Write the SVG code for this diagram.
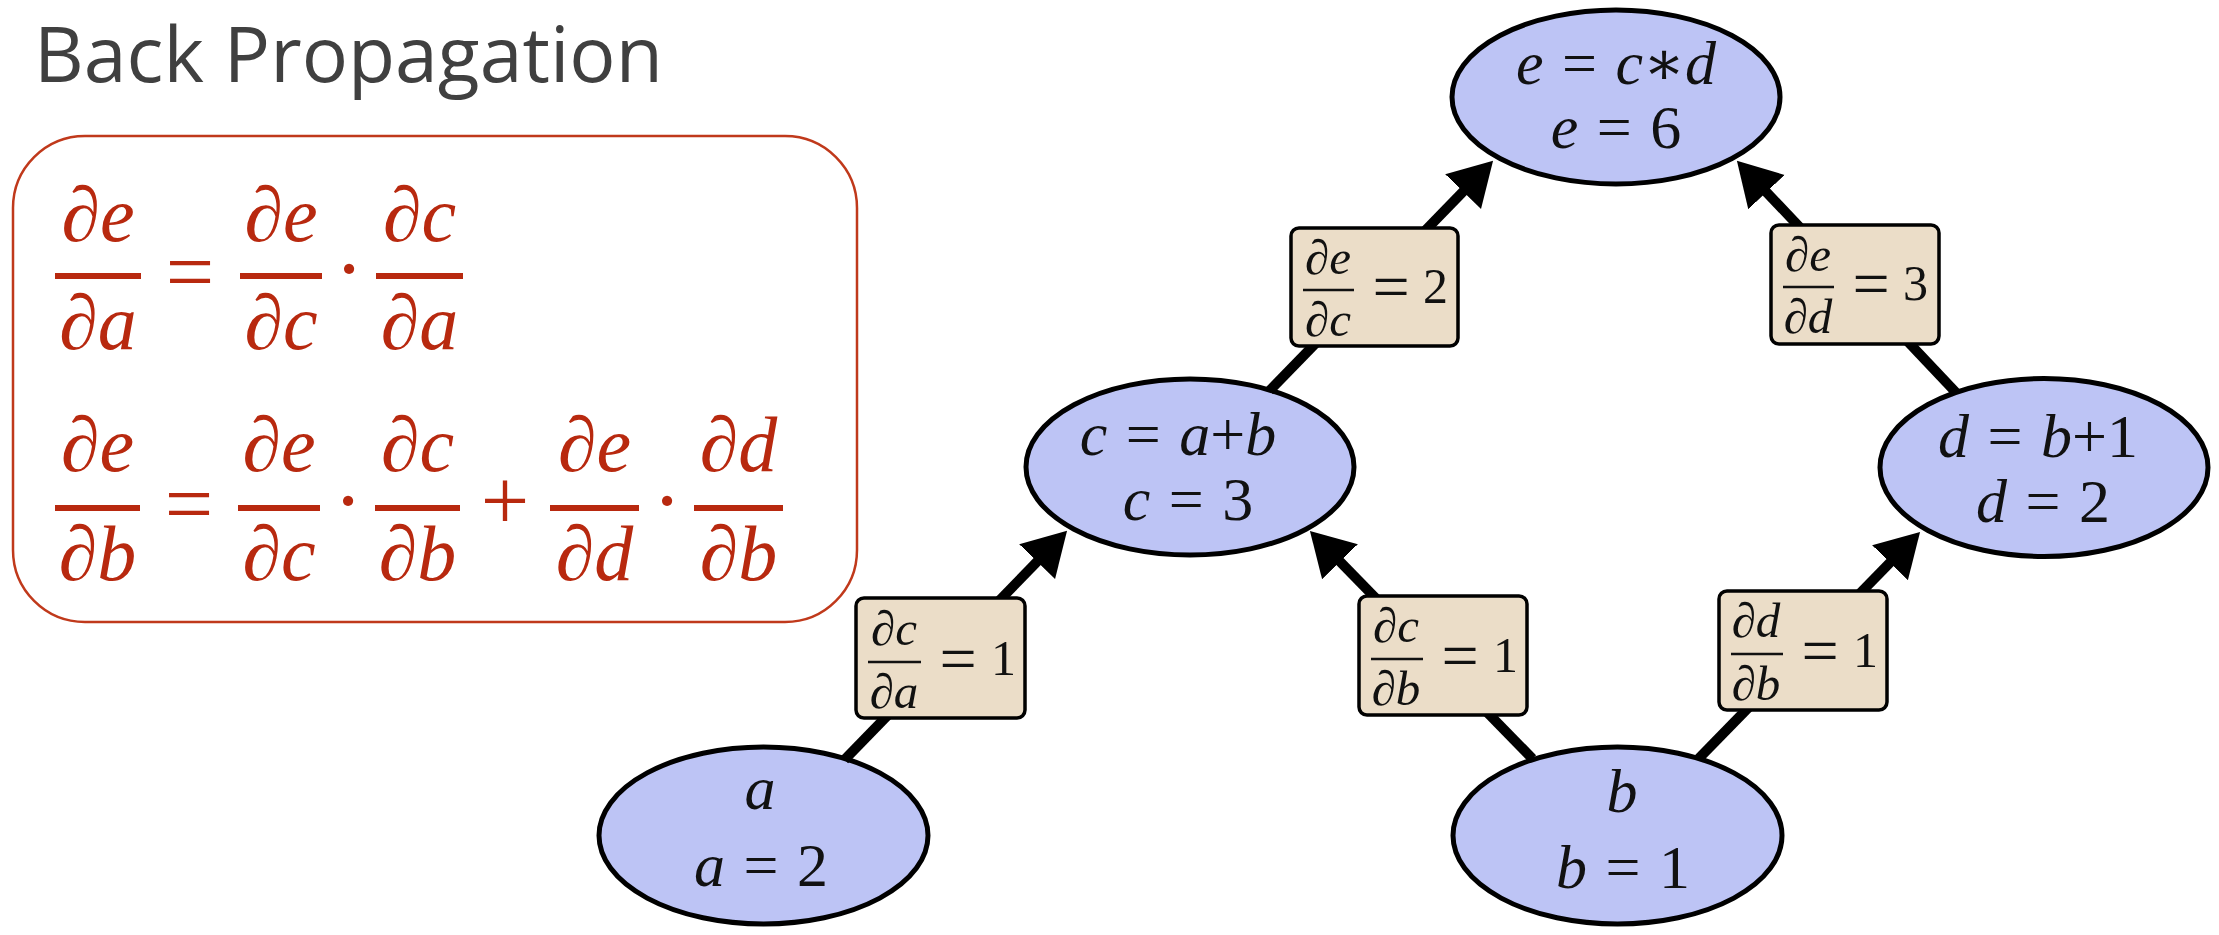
<svg xmlns="http://www.w3.org/2000/svg" width="2219" height="935" viewBox="0 0 2219 935">
<defs>
<style>
.title{font-family:"Open Sans","Noto Sans","Liberation Sans",sans-serif;font-size:77px;fill:#404040}
.req{font-family:"Liberation Serif","DejaVu Serif",serif;font-style:italic;font-size:78px;fill:#B8290F;text-anchor:middle}
.rop{font-family:"Liberation Serif","DejaVu Serif",serif;font-size:86px;fill:#B8290F;text-anchor:middle}
.rbar{stroke:#B8290F;stroke-width:6}
.node ellipse{fill:#BDC4F5;stroke:#000;stroke-width:5}
.nt{font-family:"Liberation Serif","DejaVu Serif",serif;font-size:62px;fill:#111;text-anchor:middle;word-spacing:3px}
.i{font-style:italic}
.lbl rect{fill:#EBDDC8;stroke:#000;stroke-width:3.5}
.lt{font-family:"Liberation Serif","DejaVu Serif",serif;font-size:50px;fill:#111}
.lf{font-size:49px;font-style:italic;text-anchor:middle}
.leq{font-size:66px;text-anchor:middle}
.lbar{stroke:#111;stroke-width:2.5}
.edge{stroke:#000;stroke-width:10;fill:none;marker-end:url(#ah)}
</style>
<marker id="ah" markerUnits="userSpaceOnUse" markerWidth="44" markerHeight="52" viewBox="0 -26 44 52" refX="4" refY="0" orient="auto">
<path d="M0,-25 L43,0 L0,25 z" fill="#000"/>
</marker>
</defs>
<rect width="2219" height="935" fill="#fff"/>

<text class="title" x="34" y="82">Back Propagation</text>

<g id="formula-box">
<rect x="13" y="136" width="844" height="486" rx="72" ry="72" fill="none" stroke="#C0391B" stroke-width="2.5"/>
<!-- row 1 -->
<text class="req" x="98" y="241">∂e</text>
<line class="rbar" x1="55" y1="276" x2="141" y2="276"/>
<text class="req" x="98" y="349">∂a</text>
<text class="rop" x="190" y="301">=</text>
<text class="req" x="281" y="241">∂e</text>
<line class="rbar" x1="240" y1="276" x2="322" y2="276"/>
<text class="req" x="281" y="349">∂c</text>
<text class="rop" x="349" y="298" font-size="78">·</text>
<text class="req" x="419.5" y="241">∂c</text>
<line class="rbar" x1="376" y1="276" x2="463" y2="276"/>
<text class="req" x="419.5" y="349">∂a</text>
<!-- row 2 -->
<text class="req" x="97.5" y="471">∂e</text>
<line class="rbar" x1="55" y1="508" x2="140" y2="508"/>
<text class="req" x="97.5" y="580">∂b</text>
<text class="rop" x="189" y="533">=</text>
<text class="req" x="279" y="471">∂e</text>
<line class="rbar" x1="238" y1="508" x2="320" y2="508"/>
<text class="req" x="279" y="580">∂c</text>
<text class="rop" x="348" y="530" font-size="78">·</text>
<text class="req" x="417.5" y="471">∂c</text>
<line class="rbar" x1="375" y1="508" x2="460" y2="508"/>
<text class="req" x="417.5" y="580">∂b</text>
<text class="rop" x="505" y="530">+</text>
<text class="req" x="594.5" y="471">∂e</text>
<line class="rbar" x1="550" y1="508" x2="639" y2="508"/>
<text class="req" x="594.5" y="580">∂d</text>
<text class="rop" x="667" y="530" font-size="78">·</text>
<text class="req" x="738.5" y="471">∂d</text>
<line class="rbar" x1="694" y1="508" x2="783" y2="508"/>
<text class="req" x="738.5" y="580">∂b</text>
</g>

<g id="node-e" class="node">
<ellipse cx="1616" cy="97" rx="164" ry="87"/>
<text class="nt" x="1616" y="84"><tspan class="i">e</tspan> = <tspan class="i">c</tspan>∗<tspan class="i">d</tspan></text>
<text class="nt" x="1616" y="148"><tspan class="i">e</tspan> = 6</text>
</g>
<g id="node-c" class="node">
<ellipse cx="1190" cy="467" rx="164" ry="88"/>
<text class="nt" x="1178" y="455"><tspan class="i">c</tspan> = <tspan class="i">a</tspan>+<tspan class="i">b</tspan></text>
<text class="nt" x="1188" y="520"><tspan class="i">c</tspan> = 3</text>
</g>
<g id="node-d" class="node">
<ellipse cx="2044" cy="467.5" rx="164" ry="89"/>
<text class="nt" x="2038" y="457"><tspan class="i">d</tspan> = <tspan class="i">b</tspan>+1</text>
<text class="nt" x="2043" y="522"><tspan class="i">d</tspan> = 2</text>
</g>
<g id="node-a" class="node">
<ellipse cx="763.5" cy="835.5" rx="164.5" ry="88.5"/>
<text class="nt" x="760" y="809"><tspan class="i">a</tspan></text>
<text class="nt" x="761" y="886"><tspan class="i">a</tspan> = 2</text>
</g>
<g id="node-b" class="node">
<ellipse cx="1617.5" cy="835.5" rx="164.5" ry="88.5"/>
<text class="nt" x="1622" y="812"><tspan class="i">b</tspan></text>
<text class="nt" x="1623" y="888"><tspan class="i">b</tspan> = 1</text>
</g>

<g id="connectors">
<line class="edge" x1="844.5" y1="759.8" x2="1039.9" y2="558.8"/>
<line class="edge" x1="1532.5" y1="758.7" x2="1337.2" y2="558.8"/>
<line class="edge" x1="1698.5" y1="758.7" x2="1892.8" y2="559.8"/>
<line class="edge" x1="1269.5" y1="390.8" x2="1465.9" y2="188.8"/>
<line class="edge" x1="1956.3" y1="392.9" x2="1763.7" y2="189.2"/>
</g>

<g id="label-de-dc" class="lbl" transform="translate(1291,228)">
<rect width="167" height="118" rx="8"/>
<text class="lt lf" x="37" y="46">∂e</text>
<line class="lbar" x1="12" y1="62" x2="63" y2="62"/>
<text class="lt lf" x="37" y="108">∂c</text>
<text class="lt leq" x="100" y="81">=</text>
<text class="lt" x="132" y="75">2</text>
</g>
<g id="label-de-dd" class="lbl" transform="translate(1771,225)">
<rect width="168" height="119" rx="8"/>
<text class="lt lf" x="37" y="46">∂e</text>
<line class="lbar" x1="12" y1="62" x2="63" y2="62"/>
<text class="lt lf" x="37" y="108">∂d</text>
<text class="lt leq" x="100" y="81">=</text>
<text class="lt" x="132" y="75">3</text>
</g>
<g id="label-dc-da" class="lbl" transform="translate(856,598)">
<rect width="169" height="120" rx="8"/>
<text class="lt lf" x="38" y="47">∂c</text>
<line class="lbar" x1="12" y1="64" x2="65" y2="64"/>
<text class="lt lf" x="38" y="110">∂a</text>
<text class="lt leq" x="102" y="83">=</text>
<text class="lt" x="135" y="77">1</text>
</g>
<g id="label-dc-db" class="lbl" transform="translate(1359,596)">
<rect width="168" height="119" rx="8"/>
<text class="lt lf" x="37" y="46">∂c</text>
<line class="lbar" x1="12" y1="63" x2="64" y2="63"/>
<text class="lt lf" x="37" y="109">∂b</text>
<text class="lt leq" x="101" y="82">=</text>
<text class="lt" x="134" y="76">1</text>
</g>
<g id="label-dd-db" class="lbl" transform="translate(1719,591)">
<rect width="168" height="119" rx="8"/>
<text class="lt lf" x="37" y="46">∂d</text>
<line class="lbar" x1="12" y1="63" x2="64" y2="63"/>
<text class="lt lf" x="37" y="109">∂b</text>
<text class="lt leq" x="101" y="82">=</text>
<text class="lt" x="134" y="76">1</text>
</g>
</svg>
